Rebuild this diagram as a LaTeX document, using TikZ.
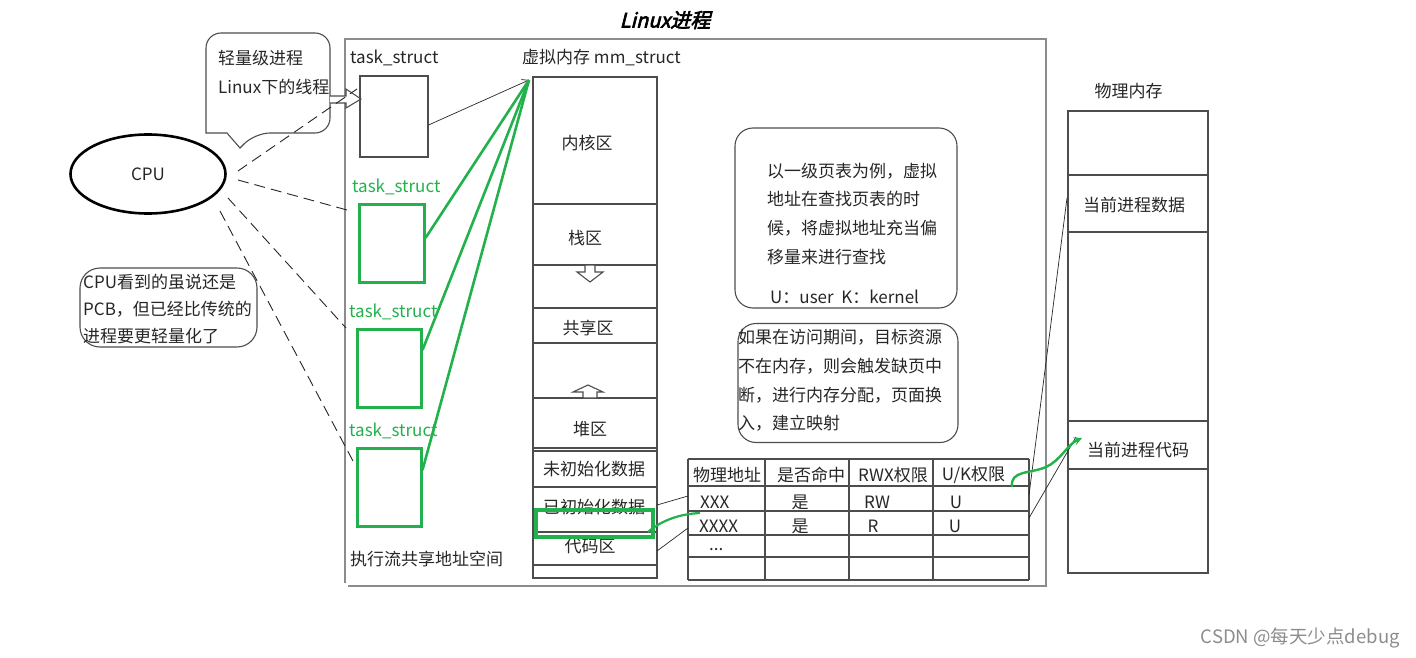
\documentclass[tikz,border=0pt]{standalone}
\usepackage{fontspec}
\setmainfont{Noto Sans CJK SC}
\newfontfamily\titlef[FakeSlant=0.25,FakeBold=3]{Noto Sans CJK SC}
\usetikzlibrary{arrows.meta,shapes.geometric}
\definecolor{grn}{HTML}{22B14C}
\definecolor{ln}{HTML}{4D4D4D}
\definecolor{fr}{HTML}{8C8C8C}
\definecolor{tx}{HTML}{262626}
\tikzset{
 txt/.style={inner sep=0pt, text=tx, font=\fontsize{17}{20}\selectfont},
 lt/.style={txt, anchor=west},
 gtxt/.style={lt, text=grn},
 bbox/.style={draw=ln, line width=1.1pt},
 gbox/.style={draw=grn, line width=3pt},
 dsh/.style={draw=tx, line width=0.9pt, dash pattern=on 11pt off 6pt},
 thinln/.style={draw=tx, line width=0.7pt},
 glink/.style={draw=grn, line width=2.6pt},
 hollow/.style={draw=ln, fill=white, line width=1.1pt},
}
\begin{document}
\begin{tikzpicture}[x=1pt,y=-1pt]
\useasboundingbox (0,0) rectangle (1416,658);

% title and frame
\node[inner sep=0pt, text=black, font=\titlef\fontsize{20}{23}\selectfont] (title) at (665,20) {Linux进程};
\draw[fr, line width=1.3pt] (345,583) -- (345,39) -- (1046,39) -- (1046,586) -- (348,586);

% speech bubble 1
\draw[bbox] (240,148) -- (227,133) -- (206,133) [rounded corners=15pt] -- (206,33) -- (330,33) -- (330,133) -- (255,133) [sharp corners] -- cycle;
\node[lt] (b1a) at (218,58) {轻量级进程};
\node[lt] (b1b) at (218,87) {Linux下的线程};
\draw[hollow] (330,96) -- (346,96) -- (346,89) -- (361,99) -- (346,108) -- (346,103) -- (330,103);

% CPU
\node[ellipse, draw=black, line width=2.6pt, minimum width=155pt, minimum height=79pt, inner sep=0pt, text=tx, font=\fontsize{17}{20}\selectfont] (cpu) at (148,174) {CPU};

% bubble 2
\node[bbox, rounded corners=20pt, minimum width=177pt, minimum height=79pt] (b2) at (168.5,307.5) {};
\node[lt] (b2a) at (83,282) {CPU看到的虽说还是};
\node[lt] (b2b) at (83,309) {PCB，但已经比传统的};
\node[lt] (b2c) at (83,336) {进程要更轻量化了};

% task structs
\node[lt] (l0) at (350,58) {task\_struct};
\node[bbox, minimum width=68pt, minimum height=81pt] (ts0) at (394,116.5) {};
\node[gtxt] (l1) at (352,187) {task\_struct};
\node[gbox, minimum width=65pt, minimum height=78pt] (ts1) at (391.5,243) {};
\node[gtxt] (l2) at (349,312) {task\_struct};
\node[gbox, minimum width=64pt, minimum height=78pt] (ts2) at (389,368) {};
\node[gtxt] (l3) at (349,431) {task\_struct};
\node[gbox, minimum width=64pt, minimum height=78pt] (ts3) at (389,487) {};
\node[lt] (share) at (350,559) {执行流共享地址空间};

% dashed lines from CPU
\coordinate (c1) at (238,171);
\coordinate (c2) at (238,180);
\coordinate (c3) at (228,198);
\coordinate (c4) at (220,211);
\coordinate (e1) at (357,89);
\coordinate (e2) at (347,210);
\coordinate (e3) at (346,328);
\coordinate (e4) at (353,461);
\draw[dsh] (c1) -- (e1);
\draw[dsh] (c2) -- (e2);
\draw[dsh] (c3) -- (e3);
\draw[dsh] (c4) -- (e4);

% virtual memory
\node[lt] (mmlab) at (522,58) {虚拟内存 mm\_struct};
\draw[bbox] (533,77) rectangle (657,578);
\foreach \yy in {204,265,308,343,398,448,451,487,532,565} \draw[bbox] (533,\yy) -- (657,\yy);
\coordinate (mtop) at (529,80);
\node[txt] (kern) at (587,143) {内核区};
\node[txt] (stack) at (585,238) {栈区};
\node[txt] (shm) at (588,328) {共享区};
\node[txt] (heap) at (590,429) {堆区};
\node[txt] (bss) at (594,469) {未初始化数据};
\node[txt] (data) at (594,507) {已初始化数据};
\node[txt] (code) at (590,546) {代码区};
\draw[hollow] (585,265) -- (595,265) -- (595,272) -- (603,272) -- (590,282) -- (577,272) -- (585,272) -- cycle;
\draw[hollow] (583,398) -- (597,398) -- (597,392) -- (603,392) -- (588,385) -- (573,392) -- (583,392) -- cycle;
\node[draw=grn, line width=4pt, minimum width=117pt, minimum height=27pt, inner sep=0pt] (gsel) at (594,523) {};

% links to mm_struct
\draw[thinln, -{Straight Barb[length=6pt,width=7pt]}] ([yshift=-8.5pt]ts0.east) -- (mtop);
\draw[glink] ([yshift=5pt]ts1.east) -- (mtop);
\draw[glink] ([yshift=18pt]ts2.east) -- (mtop);
\draw[glink] ([yshift=17pt]ts3.east) -- (mtop);

% page table
\foreach \xx in {688,765,849,933,1029} \draw[bbox] (\xx,459) -- (\xx,580);
\foreach \yy in {459,486,511,535,557,580} \draw[bbox] (688,\yy) -- (1029,\yy);
\node[txt] (h1) at (727,475) {物理地址};
\node[txt] (h2) at (811,475) {是否命中};
\node[txt] (h3) at (893,475) {RWX权限};
\node[txt] (h4) at (973.5,475) {U/K权限};
\node[lt] (r1a) at (700,502) {XXX};
\node[txt] (r1b) at (800,502) {是};
\node[txt] (r1c) at (877,502) {RW};
\node[txt] (r1d) at (956,502) {U};
\node[lt] (r2a) at (699,526) {XXXX};
\node[txt] (r2b) at (800,526) {是};
\node[txt] (r2c) at (873,526) {R};
\node[txt] (r2d) at (955,526) {U};
\node[txt, anchor=base west] (r3a) at (709,550) {...};

% memory -> table
\coordinate (m1) at (657,505);
\coordinate (t1) at (688,496);
\coordinate (m2) at (657,551);
\coordinate (t2) at (688,528);
\draw[thinln] (m1) -- (t1);
\draw[thinln] (m2) -- (t2);
\coordinate (gx) at (700,513);
\draw[glink, line width=2.2pt] (648,532) .. controls (662,520) and (680,514) .. (gx);

% notes
\node[bbox, rounded corners=18pt, minimum width=222pt, minimum height=180pt] (n1) at (846,218) {};
\node[lt] (n1a) at (767,171) {以一级页表为例，虚拟};
\node[lt] (n1b) at (767,199) {地址在查找页表的时};
\node[lt] (n1c) at (767,228) {候，将虚拟地址充当偏};
\node[lt] (n1d) at (767,257) {移量来进行查找};
\node[lt] (n1e) at (770,297) {U：user\ \ K：kernel};
\node[bbox, rounded corners=18pt, minimum width=220pt, minimum height=119pt] (n2) at (848,383) {};
\node[lt] (n2a) at (738,337) {如果在访问期间，目标资源};
\node[lt] (n2b) at (738,366) {不在内存，则会触发缺页中};
\node[lt] (n2c) at (738,395) {断，进行内存分配，页面换};
\node[lt] (n2d) at (738,423) {入，建立映射};

% physical memory
\node[txt] (pmlab) at (1128.5,91) {物理内存};
\draw[bbox] (1068,111) rectangle (1208,573);
\foreach \yy in {175,232,421,469} \draw[bbox] (1068,\yy) -- (1208,\yy);
\node[txt] (pd) at (1134,205) {当前进程数据};
\node[txt] (pc) at (1138,450) {当前进程代码};

% table -> physical memory
\coordinate (t3) at (1029,495);
\coordinate (p1) at (1067,198);
\coordinate (t4) at (1029,518);
\coordinate (p2) at (1076,437);
\draw[thinln] (t3) -- (p1);
\draw[thinln] (t4) -- (p2);
\coordinate (ga) at (1012,487);
\coordinate (gb) at (1082,438);
\draw[glink, line width=2.4pt, -{Stealth[length=8pt,width=8pt]}] (ga) .. controls (1010,470) and (1030,474) .. (1046,467) .. controls (1060,461) and (1068,444) .. (gb);

% watermark
\node[anchor=east, inner sep=0pt, text=black!45, font=\fontsize{18.5}{22}\selectfont] (wm) at (1400,638) {CSDN @每天少点debug};
\end{tikzpicture}
\end{document}
